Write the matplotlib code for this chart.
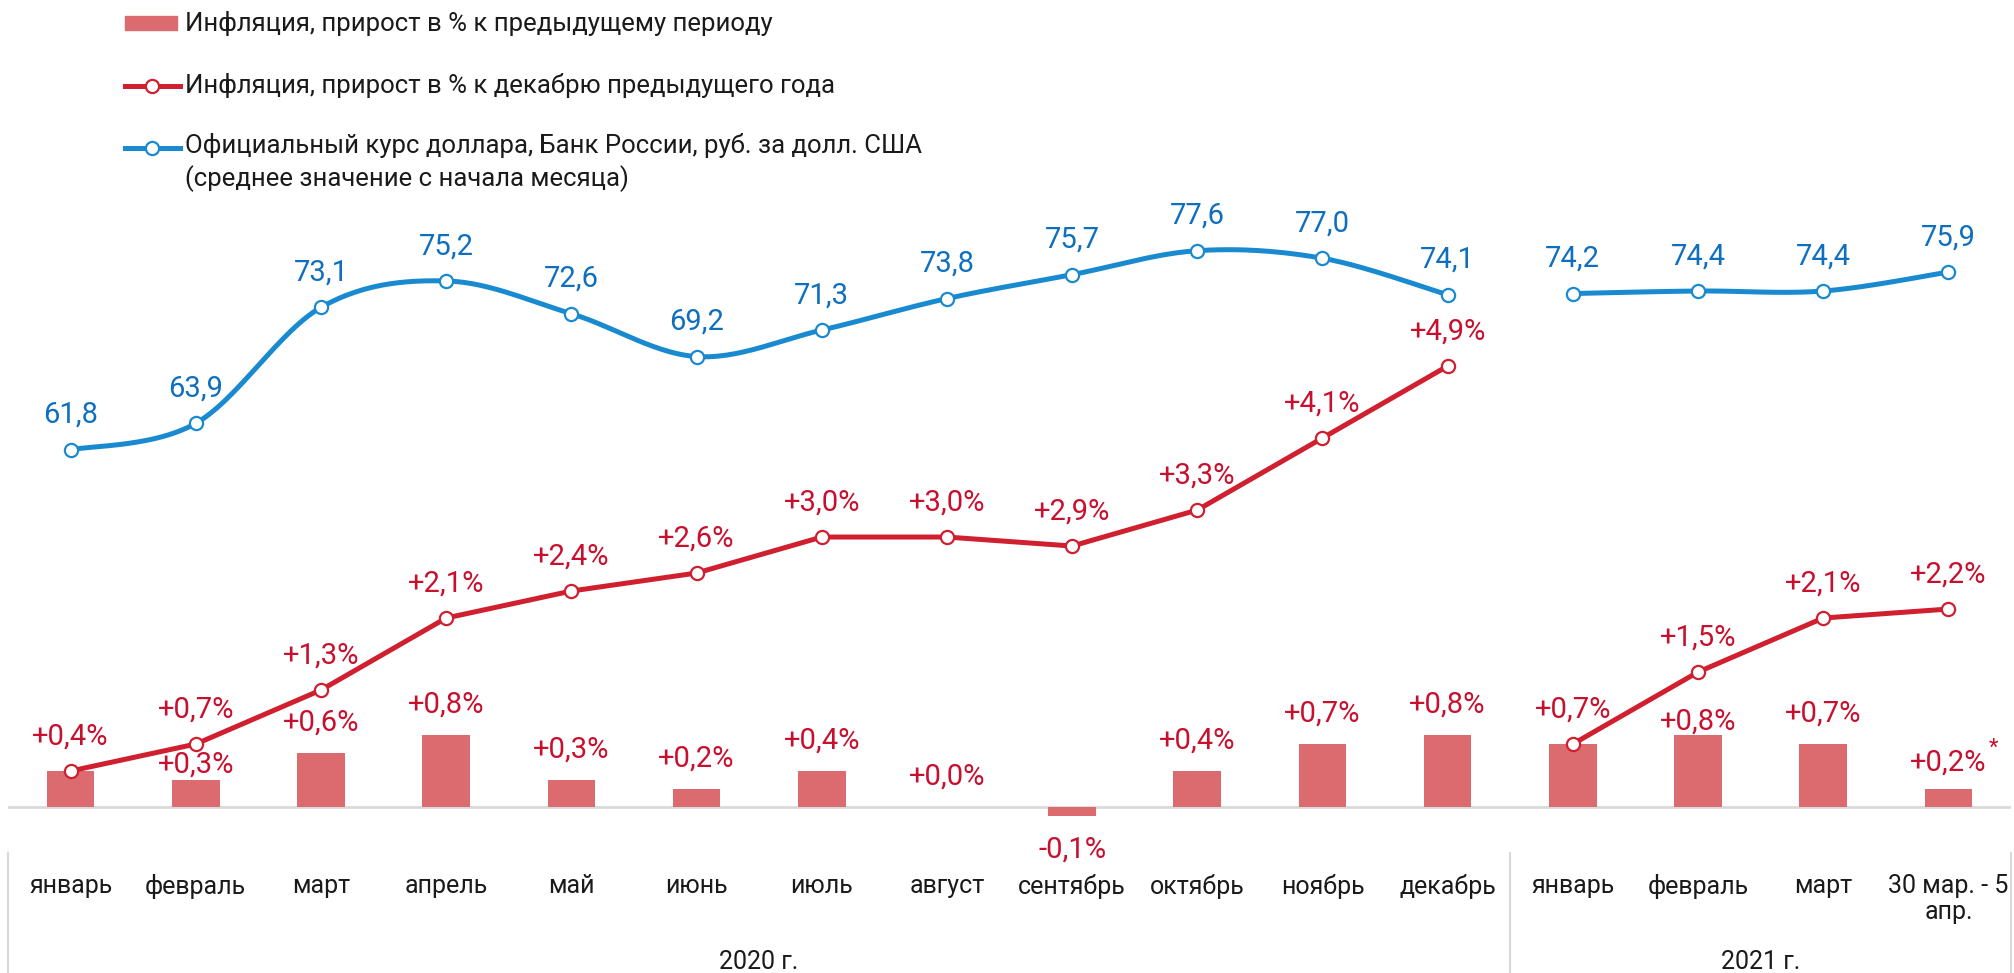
import numpy as np
import matplotlib
matplotlib.use("Agg")
import matplotlib.pyplot as plt
from matplotlib.lines import Line2D
from matplotlib.patches import Rectangle
import matplotlib.transforms as mtransforms

plt.rcParams['font.family'] = ['Roboto', 'DejaVu Sans']

# --- data ---
months = ['январь', 'февраль', 'март', 'апрель', 'май', 'июнь', 'июль', 'август',
          'сентябрь', 'октябрь', 'ноябрь', 'декабрь',
          'январь', 'февраль', 'март', '30 мар. - 5\nапр.']
years = ['2020 г.', '2021 г.']
year_len = [12, 4]

infl_mom = [0.4, 0.3, 0.6, 0.8, 0.3, 0.2, 0.4, 0.0, -0.1, 0.4, 0.7, 0.8,
            0.7, 0.8, 0.7, 0.2]
infl_ytd = [0.4, 0.7, 1.3, 2.1, 2.4, 2.6, 3.0, 3.0, 2.9, 3.3, 4.1, 4.9,
            0.7, 1.5, 2.1, 2.2]
usd_rub = [61.8, 63.9, 73.1, 75.2, 72.6, 69.2, 71.3, 73.8, 75.7, 77.6, 77.0, 74.1,
           74.2, 74.4, 74.4, 75.9]
mom_notes = [''] * 15 + ['*']

legend_labels = ['Инфляция, прирост в % к предыдущему периоду',
                 'Инфляция, прирост в % к декабрю предыдущего года',
                 'Официальный курс доллара, Банк России, руб. за долл. США\n(среднее значение с начала месяца)']

# colours
c_bar = '#DC6B70'
c_red = '#D01F2F'
c_red_txt = '#C8102E'
c_blue = '#1A8AD0'
c_blue_txt = '#0E6FBF'
c_grid = '#D9D9D9'
c_txt = '#1A1A1A'

W, H = 2015, 973
FS = 21


def smooth(xs, ys, n=30):
    # bezier curve through the points, the way spreadsheet "smooth line" does it
    pts = np.column_stack([xs, ys]).astype(float)
    out = []
    for i in range(len(pts) - 1):
        p0 = pts[max(i - 1, 0)]
        p1 = pts[i]
        p2 = pts[i + 1]
        p3 = pts[min(i + 2, len(pts) - 1)]
        c1 = p1 + (p2 - p0) / 6
        c2 = p2 - (p3 - p1) / 6
        t = np.linspace(0, 1, n)[:, None]
        seg = (1 - t) ** 3 * p1 + 3 * (1 - t) ** 2 * t * c1 + 3 * (1 - t) * t ** 2 * c2 + t ** 3 * p2
        out.append(seg if i == 0 else seg[1:])
    return np.vstack(out)


fig = plt.figure(figsize=(W / 100, H / 100), dpi=100)
ax = fig.add_axes([8 / W, 0, 2003 / W, 1 - 180 / H])
ax.set_xlim(-0.5, 15.5)
ax.set_ylim(-1.844, 6.967)
ax2 = ax.twinx()
ax2.set_ylim(20.28, 83.21)
for a in (ax, ax2):
    a.axis('off')

x = np.arange(len(months))

# bars
ax.bar(x, infl_mom, width=0.38, color=c_bar, zorder=2)
ax.axhline(0, color=c_grid, lw=2, zorder=1)

# lines, split by year
start = 0
for n in year_len:
    sl = slice(start, start + n)
    ax.plot(x[sl], infl_ytd[sl], color=c_red, lw=3.6, zorder=3,
            marker='o', ms=9.5, mfc='white', mec=c_red, mew=1.6, solid_capstyle='round')
    curve = smooth(x[sl], usd_rub[sl])
    ax2.plot(curve[:, 0], curve[:, 1], color=c_blue, lw=3.6, zorder=3, solid_capstyle='round')
    ax2.plot(x[sl], usd_rub[sl], ls='none', marker='o', ms=9.5, mfc='white',
             mec=c_blue, mew=1.6, zorder=4)
    start += n


def pct(v):
    return ('%+.1f%%' % v).replace('.', ',')


# labels
bar_off = [22] * 16
bar_off[1] = 11
bar_off[13] = 10
bar_off[15] = 19
for i, v in enumerate(infl_mom):
    if v < 0:
        ax.annotate(pct(v), (x[i], v), xytext=(0, -24), textcoords='offset points',
                    ha='center', va='center', fontsize=FS, color=c_red_txt, zorder=5)
    elif v == infl_ytd[i]:
        # same value sits under the cumulative label in the source chart
        continue
    else:
        ax.annotate(pct(v), (x[i], v), xytext=(0, bar_off[i]), textcoords='offset points',
                    ha='center', va='center', fontsize=FS, color=c_red_txt, zorder=5)
        if mom_notes[i]:
            ax.annotate(mom_notes[i], (x[i], v), xytext=(29, bar_off[i] + 10),
                        textcoords='offset points', ha='left', va='center',
                        fontsize=16, color=c_red_txt, zorder=5)

for i, v in enumerate(infl_ytd):
    ax.annotate(pct(v), (x[i], v), xytext=(0, 25), textcoords='offset points',
                ha='center', va='center', fontsize=FS, color=c_red_txt, zorder=5)

for i, v in enumerate(usd_rub):
    ax2.annotate(('%.1f' % v).replace('.', ','), (x[i], v), xytext=(0, 25),
                 textcoords='offset points', ha='center', va='center',
                 fontsize=FS, color=c_blue_txt, zorder=5)

# category table below the axis
tr = mtransforms.blended_transform_factory(ax.transData, fig.transFigure)
for i, m in enumerate(months):
    ax.text(x[i], 1 - 874 / H, m, transform=tr, ha='center', va='top',
            fontsize=18, color=c_txt, linespacing=1.1)
bounds = np.cumsum([0] + year_len) - 0.5
for b in bounds:
    ax.plot([b, b], [1 - 853 / H, 0], transform=tr, color=c_grid, lw=1.5, clip_on=False)
year_x = [5.5, 13.5]
for yx, yl in zip(year_x, years):
    ax.text(yx, 1 - 962 / H, yl, transform=tr, ha='center', va='center',
            fontsize=18, color=c_txt)


# legend drawn by hand
def px(xp, yp):
    return xp / W, 1 - yp / H


fig.patches.append(Rectangle(px(125, 30), 52 / W, 14 / H, transform=fig.transFigure,
                             color=c_bar, figure=fig))
for yy, col in [(86, c_red), (148, c_blue)]:
    fig.lines.append(Line2D([125 / W, 180 / W], [1 - yy / H] * 2, transform=fig.transFigure,
                            color=col, lw=3.6, figure=fig))
    fig.lines.append(Line2D([152 / W], [1 - yy / H], transform=fig.transFigure, marker='o',
                            ms=9.5, mfc='white', mec=col, mew=1.6, figure=fig))
fig.text(*px(185, 23), legend_labels[0], ha='left', va='center', fontsize=18.5, color=c_txt)
fig.text(*px(185, 86), legend_labels[1], ha='left', va='center', fontsize=18.5, color=c_txt)
fig.text(*px(185, 133), legend_labels[2], ha='left', va='top', fontsize=18.5, color=c_txt,
         linespacing=1.35)

fig.savefig('out.png', dpi=100)
